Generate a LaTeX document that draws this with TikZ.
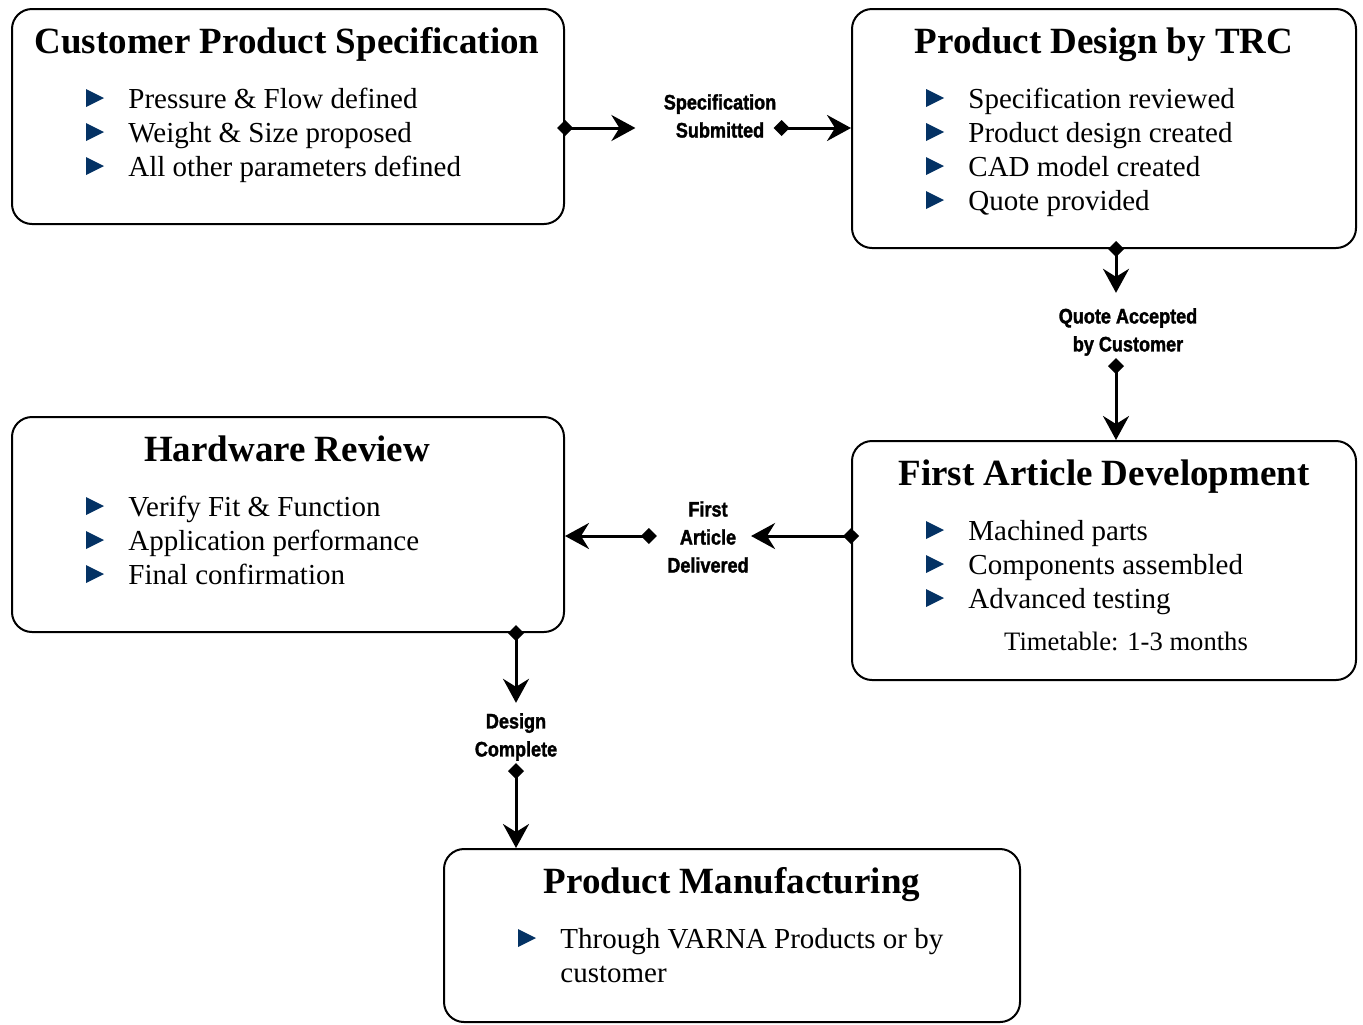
\documentclass[tikz,border=0pt]{standalone}
\usepackage{fontspec}
\setmainfont{Liberation Serif}
\newfontfamily\tagfont[FakeStretch=0.86,FakeBold=1.6]{Liberation Sans}
\usetikzlibrary{arrows.meta,positioning}
\definecolor{bulletblue}{RGB}{4,50,100}
\tikzset{
box/.style={draw, line width=1pt, rounded corners=10pt}, % the five stage boxes
title/.style={anchor=base, font=\bfseries\fontsize{18.5}{22}\selectfont}, % box headings
item/.style={anchor=base west, inner sep=0pt, font=\fontsize{14.5}{17}\selectfont}, % bullet lines
tag/.style={align=center, inner sep=1pt, font=\tagfont\bfseries\fontsize{10.5}{14}\selectfont}, % link labels
link/.style={line width=1.5pt, {Diamond[length=8pt,width=8pt]}-{Stealth[length=12pt,width=13pt,inset=4pt]}},
from box/.style={shorten <=-4pt}, % centres the diamond on the box border
}
% blue bullet left of an item node (placed from its baseline)
\newcommand\bul[1]{\fill[bulletblue] ([xshift=-21pt,yshift=9.5pt]#1.base west) -- ++(9pt,-4.5pt) -- ++(-9pt,-4.5pt) -- cycle;}

\begin{document}
\begin{tikzpicture}[x=1pt,y=-1pt]
\useasboundingbox (0,0) rectangle (681.5,512);

% boxes
\node[box, minimum width=276pt, minimum height=107.5pt] (spec) at (144,58.25) {};
\node[box, minimum width=252pt, minimum height=119.5pt] (trc) at (552,64.25) {};
\node[box, minimum width=252pt, minimum height=119.5pt] (fad) at (552,280.25) {};
\node[box, minimum width=276pt, minimum height=107.5pt] (hr) at (144,262.25) {};
\node[box, minimum width=288pt, minimum height=86.5pt] (mfg) at (366,467.75) {};

% headings
\node[title] (spec-t) at (143.5,26.5) {Customer Product Specification};
\node[title] (trc-t) at (552,26.5) {Product Design by TRC};
\node[title] (fad-t) at (552,242.5) {First Article Development};
\node[title] (hr-t) at (143.5,230.5) {Hardware Review};
\node[title] (mfg-t) at (366,446.5) {Product Manufacturing};

% bullet lists
\foreach \t [count=\i] in {Pressure \& Flow defined, Weight \& Size proposed, All other parameters defined} {
  \node[item] (spec-\i) at (64,37+17*\i) {\t};
  \bul{spec-\i}
}
\foreach \t [count=\i] in {Specification reviewed, Product design created, CAD model created, Quote provided} {
  \node[item] (trc-\i) at (484,37+17*\i) {\t};
  \bul{trc-\i}
}
\foreach \t [count=\i] in {Machined parts, Components assembled, Advanced testing} {
  \node[item] (fad-\i) at (484,253+17*\i) {\t};
  \bul{fad-\i}
}
\node[anchor=base, inner sep=0pt, font=\fontsize{13.3}{16}\selectfont] (fad-time) at (563,325) {Timetable: 1-3 months};
\foreach \t [count=\i] in {Verify Fit \& Function, Application performance, Final confirmation} {
  \node[item] (hr-\i) at (64,241+17*\i) {\t};
  \bul{hr-\i}
}
\node[item] (mfg-1) at (280,474) {Through VARNA Products or by};
\bul{mfg-1}
\node[item] (mfg-2) at (280,491) {customer};

% link labels
\node[tag] (t-spec) at (360,58) {Specification\\Submitted};
\node[tag] (t-trc) at (564,166) {Quote Accepted\\by Customer};
\node[tag] (t-fad) at (354,268.5) {First\\Article\\Delivered};
\node[tag] (t-hr) at (258,368.5) {Design\\Complete};

\coordinate (r1) at (0,64);
\coordinate (c2) at (558,0);
\coordinate (r3) at (0,268);
\coordinate (c4) at (258,0);

% links
\draw[link, from box, shorten >=13pt] (spec.east |- r1) -- (t-spec.west |- r1);
\draw[link, shorten <=-2.5pt] (t-spec.east |- r1) -- (trc.west |- r1);
\draw[link, from box, shorten >=6.5pt] (trc.south -| c2) -- (t-trc.north -| c2);
\draw[link] (t-trc.south -| c2) -- (fad.north -| c2);
\draw[link, from box] (fad.west |- r3) -- (t-fad.east |- r3);
\draw[link, shorten <=4pt] (t-fad.west |- r3) -- (hr.east |- r3);
\draw[link, from box, shorten >=4pt] (hr.south -| c4) -- (t-hr.north -| c4);
\draw[link] (t-hr.south -| c4) -- (mfg.north -| c4);
\end{tikzpicture}
\end{document}
